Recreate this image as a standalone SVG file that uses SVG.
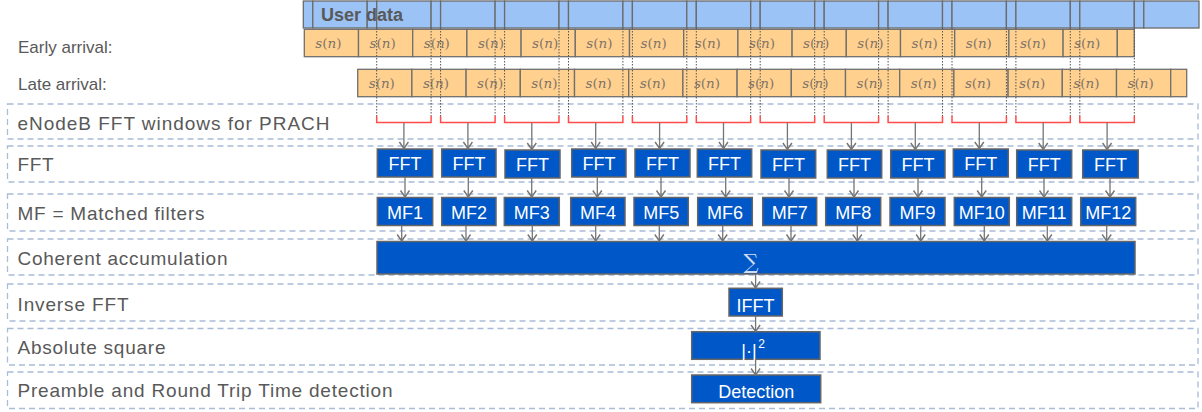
<svg xmlns="http://www.w3.org/2000/svg" width="1202" height="412" viewBox="0 0 1202 412">
<style>
.lane{fill:none;stroke:#a9bcd8;stroke-width:1.3;stroke-dasharray:6 4}
.lbl{font-family:"Liberation Sans",Arial,sans-serif;font-size:19px;fill:#595959}
.lbl2{font-family:"Liberation Sans",Arial,sans-serif;font-size:17px;fill:#595959}
.ud{fill:#9cc3f6;stroke:#6b6b6b;stroke-width:1.3}
.sn{fill:#ffd08e;stroke:#6f6f6f;stroke-width:1.3}
.snt{font-family:"DejaVu Serif","Liberation Serif",serif;font-size:13.5px;fill:#7f7468;text-anchor:middle}
.dot{stroke:#555;stroke-width:1;stroke-dasharray:1.5 1.5;fill:none}
.br{fill:none;stroke:#ff4b4b;stroke-width:1.5}
.box{fill:#0057c7;stroke:#656565;stroke-width:1.5}
.bt{font-family:"Liberation Sans",Arial,sans-serif;font-size:18px;fill:#ffffff;text-anchor:middle}
.ar{fill:none;stroke:#757575;stroke-width:1.3;marker-end:url(#ah)}
</style>
<defs>
<marker id="ah" markerUnits="userSpaceOnUse" markerWidth="12" markerHeight="12" viewBox="-1 -6 9 12" refX="6.5" refY="0" orient="auto">
<path d="M0,-4.5 L6.5,0 L0,4.5" fill="none" stroke="#757575" stroke-width="1.4"/>
</marker>
</defs>

<g id="lanes">
<rect class="lane" x="7.5" y="104" width="1190.5" height="35"/>
<rect class="lane" x="7.5" y="146" width="1190.5" height="36"/>
<rect class="lane" x="7.5" y="194" width="1190.5" height="37"/>
<rect class="lane" x="7.5" y="239" width="1190.5" height="36"/>
<rect class="lane" x="7.5" y="284" width="1190.5" height="37"/>
<rect class="lane" x="7.5" y="328.5" width="1190.5" height="36.5"/>
<rect class="lane" x="7.5" y="372" width="1190.5" height="36.5"/>
<text class="lbl" x="17.5" y="129.5" textLength="312" lengthAdjust="spacing">eNodeB FFT windows for PRACH</text>
<text class="lbl" x="17.5" y="171" textLength="36" lengthAdjust="spacing">FFT</text>
<text class="lbl" x="17.5" y="220" textLength="187" lengthAdjust="spacing">MF = Matched filters</text>
<text class="lbl" x="17.5" y="265" textLength="210" lengthAdjust="spacing">Coherent accumulation</text>
<text class="lbl" x="17.5" y="310.5" textLength="111" lengthAdjust="spacing">Inverse FFT</text>
<text class="lbl" x="17.5" y="354" textLength="148" lengthAdjust="spacing">Absolute square</text>
<text class="lbl" x="17.5" y="396.5" textLength="375" lengthAdjust="spacing">Preamble and Round Trip Time detection</text>
</g>

<g id="user-data">
<rect class="ud" x="303.3" y="1" width="9.5" height="27"/>
<rect class="ud" x="312.8" y="1" width="54.4" height="27"/>
<rect class="ud" x="367.2" y="1" width="9.5" height="27"/>
<rect class="ud" x="376.7" y="1" width="54.4" height="27"/>
<rect class="ud" x="431.1" y="1" width="9.5" height="27"/>
<rect class="ud" x="440.6" y="1" width="54.5" height="27"/>
<rect class="ud" x="495.1" y="1" width="9.5" height="27"/>
<rect class="ud" x="504.6" y="1" width="54.4" height="27"/>
<rect class="ud" x="559.0" y="1" width="9.5" height="27"/>
<rect class="ud" x="568.5" y="1" width="54.4" height="27"/>
<rect class="ud" x="622.9" y="1" width="9.5" height="27"/>
<rect class="ud" x="632.4" y="1" width="54.4" height="27"/>
<rect class="ud" x="686.8" y="1" width="9.5" height="27"/>
<rect class="ud" x="696.3" y="1" width="54.4" height="27"/>
<rect class="ud" x="750.7" y="1" width="9.5" height="27"/>
<rect class="ud" x="760.2" y="1" width="54.5" height="27"/>
<rect class="ud" x="814.7" y="1" width="9.5" height="27"/>
<rect class="ud" x="824.2" y="1" width="54.4" height="27"/>
<rect class="ud" x="878.6" y="1" width="9.5" height="27"/>
<rect class="ud" x="888.1" y="1" width="54.4" height="27"/>
<rect class="ud" x="942.5" y="1" width="9.5" height="27"/>
<rect class="ud" x="952.0" y="1" width="54.4" height="27"/>
<rect class="ud" x="1006.4" y="1" width="9.5" height="27"/>
<rect class="ud" x="1015.9" y="1" width="54.4" height="27"/>
<rect class="ud" x="1070.3" y="1" width="9.5" height="27"/>
<rect class="ud" x="1079.8" y="1" width="54.5" height="27"/>
<rect class="ud" x="1134.3" y="1" width="9.5" height="27"/>
<rect class="ud" x="1143.8" y="1" width="55.2" height="27"/>
<text x="321" y="21" font-family="'Liberation Sans',Arial,sans-serif" font-size="18" font-weight="bold" fill="#595959">User data</text>
</g>

<g id="early-arrival">
<text class="lbl2" x="18" y="53">Early arrival:</text>
<rect class="sn" x="304.3" y="29.3" width="54.2" height="27.4"/>
<rect class="sn" x="358.5" y="29.3" width="54.2" height="27.4"/>
<rect class="sn" x="412.7" y="29.3" width="54.2" height="27.4"/>
<rect class="sn" x="466.9" y="29.3" width="54.2" height="27.4"/>
<rect class="sn" x="521.1" y="29.3" width="54.2" height="27.4"/>
<rect class="sn" x="575.3" y="29.3" width="54.2" height="27.4"/>
<rect class="sn" x="629.5" y="29.3" width="54.2" height="27.4"/>
<rect class="sn" x="683.7" y="29.3" width="54.2" height="27.4"/>
<rect class="sn" x="737.9" y="29.3" width="54.2" height="27.4"/>
<rect class="sn" x="792.1" y="29.3" width="54.2" height="27.4"/>
<rect class="sn" x="846.3" y="29.3" width="54.2" height="27.4"/>
<rect class="sn" x="900.5" y="29.3" width="54.2" height="27.4"/>
<rect class="sn" x="954.7" y="29.3" width="54.2" height="27.4"/>
<rect class="sn" x="1008.9" y="29.3" width="54.2" height="27.4"/>
<rect class="sn" x="1063.1" y="29.3" width="54.2" height="27.4"/>
<rect class="sn" x="1117.3" y="29.3" width="17" height="27.4"/>
<g class="snt">
<text x="328.4" y="48"><tspan font-style="italic">s</tspan>(<tspan font-style="italic">n</tspan>)</text>
<text x="382.6" y="48"><tspan font-style="italic">s</tspan>(<tspan font-style="italic">n</tspan>)</text>
<text x="436.8" y="48"><tspan font-style="italic">s</tspan>(<tspan font-style="italic">n</tspan>)</text>
<text x="491.0" y="48"><tspan font-style="italic">s</tspan>(<tspan font-style="italic">n</tspan>)</text>
<text x="545.2" y="48"><tspan font-style="italic">s</tspan>(<tspan font-style="italic">n</tspan>)</text>
<text x="599.4" y="48"><tspan font-style="italic">s</tspan>(<tspan font-style="italic">n</tspan>)</text>
<text x="653.6" y="48"><tspan font-style="italic">s</tspan>(<tspan font-style="italic">n</tspan>)</text>
<text x="707.8" y="48"><tspan font-style="italic">s</tspan>(<tspan font-style="italic">n</tspan>)</text>
<text x="762.0" y="48"><tspan font-style="italic">s</tspan>(<tspan font-style="italic">n</tspan>)</text>
<text x="816.2" y="48"><tspan font-style="italic">s</tspan>(<tspan font-style="italic">n</tspan>)</text>
<text x="870.4" y="48"><tspan font-style="italic">s</tspan>(<tspan font-style="italic">n</tspan>)</text>
<text x="924.6" y="48"><tspan font-style="italic">s</tspan>(<tspan font-style="italic">n</tspan>)</text>
<text x="978.8" y="48"><tspan font-style="italic">s</tspan>(<tspan font-style="italic">n</tspan>)</text>
<text x="1033.0" y="48"><tspan font-style="italic">s</tspan>(<tspan font-style="italic">n</tspan>)</text>
<text x="1087.2" y="48"><tspan font-style="italic">s</tspan>(<tspan font-style="italic">n</tspan>)</text>
</g>
</g>

<g id="late-arrival">
<text class="lbl2" x="18" y="90">Late arrival:</text>
<rect class="sn" x="357.7" y="69.3" width="54.2" height="27.4"/>
<rect class="sn" x="411.9" y="69.3" width="54.2" height="27.4"/>
<rect class="sn" x="466.1" y="69.3" width="54.2" height="27.4"/>
<rect class="sn" x="520.3" y="69.3" width="54.2" height="27.4"/>
<rect class="sn" x="574.5" y="69.3" width="54.2" height="27.4"/>
<rect class="sn" x="628.7" y="69.3" width="54.2" height="27.4"/>
<rect class="sn" x="682.9" y="69.3" width="54.2" height="27.4"/>
<rect class="sn" x="737.1" y="69.3" width="54.2" height="27.4"/>
<rect class="sn" x="791.3" y="69.3" width="54.2" height="27.4"/>
<rect class="sn" x="845.5" y="69.3" width="54.2" height="27.4"/>
<rect class="sn" x="899.7" y="69.3" width="54.2" height="27.4"/>
<rect class="sn" x="953.9" y="69.3" width="54.2" height="27.4"/>
<rect class="sn" x="1008.1" y="69.3" width="54.2" height="27.4"/>
<rect class="sn" x="1062.3" y="69.3" width="54.2" height="27.4"/>
<rect class="sn" x="1116.5" y="69.3" width="54.2" height="27.4"/>
<rect class="sn" x="1170.7" y="69.3" width="16" height="27.4"/>
<g class="snt">
<text x="381.8" y="88"><tspan font-style="italic">s</tspan>(<tspan font-style="italic">n</tspan>)</text>
<text x="436.0" y="88"><tspan font-style="italic">s</tspan>(<tspan font-style="italic">n</tspan>)</text>
<text x="490.2" y="88"><tspan font-style="italic">s</tspan>(<tspan font-style="italic">n</tspan>)</text>
<text x="544.4" y="88"><tspan font-style="italic">s</tspan>(<tspan font-style="italic">n</tspan>)</text>
<text x="598.6" y="88"><tspan font-style="italic">s</tspan>(<tspan font-style="italic">n</tspan>)</text>
<text x="652.8" y="88"><tspan font-style="italic">s</tspan>(<tspan font-style="italic">n</tspan>)</text>
<text x="707.0" y="88"><tspan font-style="italic">s</tspan>(<tspan font-style="italic">n</tspan>)</text>
<text x="761.2" y="88"><tspan font-style="italic">s</tspan>(<tspan font-style="italic">n</tspan>)</text>
<text x="815.4" y="88"><tspan font-style="italic">s</tspan>(<tspan font-style="italic">n</tspan>)</text>
<text x="869.6" y="88"><tspan font-style="italic">s</tspan>(<tspan font-style="italic">n</tspan>)</text>
<text x="923.8" y="88"><tspan font-style="italic">s</tspan>(<tspan font-style="italic">n</tspan>)</text>
<text x="978.0" y="88"><tspan font-style="italic">s</tspan>(<tspan font-style="italic">n</tspan>)</text>
<text x="1032.2" y="88"><tspan font-style="italic">s</tspan>(<tspan font-style="italic">n</tspan>)</text>
<text x="1086.4" y="88"><tspan font-style="italic">s</tspan>(<tspan font-style="italic">n</tspan>)</text>
<text x="1140.6" y="88"><tspan font-style="italic">s</tspan>(<tspan font-style="italic">n</tspan>)</text>
</g>
</g>

<g id="fft-windows">
<path class="dot" d="M376.7,28V116M431.1,28V116M440.6,28V116M495.1,28V116M504.6,28V116M559.0,28V116M568.5,28V116M622.9,28V116M632.4,28V116M686.8,28V116M696.3,28V116M750.7,28V116M760.2,28V116M814.7,28V116M824.2,28V116M878.6,28V116M888.1,28V116M942.5,28V116M952.0,28V116M1006.4,28V116M1015.9,28V116M1070.3,28V116M1079.8,28V116M1134.3,28V116"/>
<path class="br" d="M376.7,116V122.5H431.1V116M440.6,116V122.5H495.1V116M504.6,116V122.5H559.0V116M568.5,116V122.5H622.9V116M632.4,116V122.5H686.8V116M696.3,116V122.5H750.7V116M760.2,116V122.5H814.7V116M824.2,116V122.5H878.6V116M888.1,116V122.5H942.5V116M952.0,116V122.5H1006.4V116M1015.9,116V122.5H1070.3V116M1079.8,116V122.5H1134.3V116"/>
</g>

<g id="fft1"><rect class="box" x="377.3" y="149" width="55.4" height="28"/><text class="bt" x="405" y="170">FFT</text></g>
<g id="fft2"><rect class="box" x="441.7" y="149" width="54.3" height="28"/><text class="bt" x="468.9" y="170">FFT</text></g>
<g id="fft3"><rect class="box" x="505" y="150" width="55" height="28"/><text class="bt" x="532.5" y="171">FFT</text></g>
<g id="fft4"><rect class="box" x="571.7" y="149" width="54.3" height="28"/><text class="bt" x="598.9" y="170">FFT</text></g>
<g id="fft5"><rect class="box" x="635" y="149" width="55" height="28"/><text class="bt" x="662.5" y="170">FFT</text></g>
<g id="fft6"><rect class="box" x="697.3" y="149" width="54.4" height="28"/><text class="bt" x="724.5" y="170">FFT</text></g>
<g id="fft7"><rect class="box" x="761" y="150" width="54.7" height="28"/><text class="bt" x="788.4" y="171">FFT</text></g>
<g id="fft8"><rect class="box" x="827.3" y="150" width="54.4" height="28"/><text class="bt" x="854.5" y="171">FFT</text></g>
<g id="fft9"><rect class="box" x="890.7" y="150" width="54.3" height="28"/><text class="bt" x="917.9" y="171">FFT</text></g>
<g id="fft10"><rect class="box" x="953.3" y="149" width="55" height="28"/><text class="bt" x="980.8" y="170">FFT</text></g>
<g id="fft11"><rect class="box" x="1016.7" y="150" width="55" height="28"/><text class="bt" x="1044.2" y="171">FFT</text></g>
<g id="fft12"><rect class="box" x="1082.7" y="150" width="55.6" height="28"/><text class="bt" x="1110.5" y="171">FFT</text></g>

<g id="mf1"><rect class="box" x="377.3" y="197.5" width="55.4" height="28"/><text class="bt" x="405" y="219">MF1</text></g>
<g id="mf2"><rect class="box" x="441.7" y="197.5" width="54.3" height="28"/><text class="bt" x="468.9" y="219">MF2</text></g>
<g id="mf3"><rect class="box" x="504.3" y="197.5" width="55" height="28"/><text class="bt" x="531.8" y="219">MF3</text></g>
<g id="mf4"><rect class="box" x="570.7" y="197.5" width="54.3" height="28"/><text class="bt" x="597.9" y="219">MF4</text></g>
<g id="mf5"><rect class="box" x="634" y="197.5" width="54.3" height="28"/><text class="bt" x="661.2" y="219">MF5</text></g>
<g id="mf6"><rect class="box" x="697.7" y="197.5" width="54.6" height="28"/><text class="bt" x="725" y="219">MF6</text></g>
<g id="mf7"><rect class="box" x="762.7" y="197.5" width="54" height="28"/><text class="bt" x="789.7" y="219">MF7</text></g>
<g id="mf8"><rect class="box" x="825.7" y="197.5" width="55" height="28"/><text class="bt" x="853.2" y="219">MF8</text></g>
<g id="mf9"><rect class="box" x="890" y="197.5" width="55" height="28"/><text class="bt" x="917.5" y="219">MF9</text></g>
<g id="mf10"><rect class="box" x="954.3" y="197.5" width="55" height="28"/><text class="bt" x="981.8" y="219">MF10</text></g>
<g id="mf11"><rect class="box" x="1016.7" y="197.5" width="55" height="28"/><text class="bt" x="1044.2" y="219">MF11</text></g>
<g id="mf12"><rect class="box" x="1080.7" y="197.5" width="55" height="28"/><text class="bt" x="1108.2" y="219">MF12</text></g>

<g id="sum"><rect class="box" x="377" y="241.5" width="758" height="32.5"/><text x="751" y="269" font-family="'DejaVu Serif',serif" font-size="21" fill="#d0dcf2" text-anchor="middle">∑</text></g>
<g id="ifft"><rect class="box" x="729" y="288.3" width="53.3" height="27.7"/><text class="bt" x="755.6" y="312">IFFT</text></g>
<g id="abs"><rect class="box" x="691.7" y="331.7" width="128.3" height="27.6"/><text class="bt" x="749" y="357">|·|</text><text x="761.5" y="348" font-family="'Liberation Sans',Arial,sans-serif" font-size="12" fill="#ffffff" text-anchor="middle">2</text></g>
<g id="detection"><rect class="box" x="691.7" y="375" width="129" height="27.7"/><text class="bt" x="756.2" y="398">Detection</text></g>

<g id="connectors">
<path class="ar" d="M403.9,122.5V148.5"/>
<path class="ar" d="M467.9,122.5V148.5"/>
<path class="ar" d="M531.8,122.5V149.5"/>
<path class="ar" d="M595.7,122.5V148.5"/>
<path class="ar" d="M659.6,122.5V148.5"/>
<path class="ar" d="M723.5,122.5V148.5"/>
<path class="ar" d="M787.4,122.5V149.5"/>
<path class="ar" d="M851.4,122.5V149.5"/>
<path class="ar" d="M915.3,122.5V149.5"/>
<path class="ar" d="M979.3,122.5V148.5"/>
<path class="ar" d="M1043.2,122.5V149.5"/>
<path class="ar" d="M1107.1,122.5V149.5"/>
<path class="ar" d="M405,177V197"/>
<path class="ar" d="M468.3,177V197"/>
<path class="ar" d="M531.7,178V197"/>
<path class="ar" d="M597.3,177V197"/>
<path class="ar" d="M661,177V197"/>
<path class="ar" d="M725.7,177V197"/>
<path class="ar" d="M789,178V197"/>
<path class="ar" d="M854,178V197"/>
<path class="ar" d="M918,178V197"/>
<path class="ar" d="M981.7,177V197"/>
<path class="ar" d="M1044,178V197"/>
<path class="ar" d="M1110,178V197"/>
<path class="ar" d="M401.7,225.5V241"/>
<path class="ar" d="M466,225.5V241"/>
<path class="ar" d="M532.3,225.5V241"/>
<path class="ar" d="M595.7,225.5V241"/>
<path class="ar" d="M659.3,225.5V241"/>
<path class="ar" d="M722.7,225.5V241"/>
<path class="ar" d="M791,225.5V241"/>
<path class="ar" d="M857.3,225.5V241"/>
<path class="ar" d="M920.7,225.5V241"/>
<path class="ar" d="M984.3,225.5V241"/>
<path class="ar" d="M1047.3,225.5V241"/>
<path class="ar" d="M1106.7,225.5V241"/>
<path class="ar" d="M755.6,274V288"/>
<path class="ar" d="M755.6,316V331.5"/>
<path class="ar" d="M755.6,359.3V375"/>
</g>
</svg>
